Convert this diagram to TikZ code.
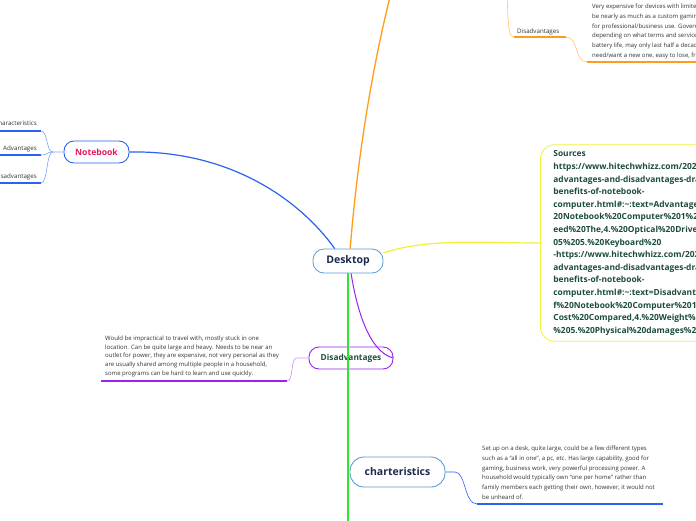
\documentclass[tikz,border=0pt]{standalone}
\usepackage{fontspec}
\setmainfont{Open Sans}
\definecolor{deskline}{HTML}{5B9BD5}
\definecolor{navy}{HTML}{1B2A4E}
\definecolor{nbblue}{HTML}{2C62F0}
\definecolor{nbpale}{HTML}{7EA2F7}
\definecolor{nbred}{HTML}{E5175F}
\definecolor{orangeline}{HTML}{FF9C1A}
\definecolor{orangepale}{HTML}{FFC56E}
\definecolor{yellowline}{HTML}{F2F23A}
\definecolor{greenline}{HTML}{2FE62F}
\definecolor{purpleline}{HTML}{9B23EE}
\definecolor{purplepale}{HTML}{D48BF7}
\definecolor{forest}{HTML}{1C4D3C}
\definecolor{body}{HTML}{333333}
\tikzset{
  mainnode/.style={draw=deskline, fill=white, rounded corners=11pt, line width=0.8pt,
                   text=navy, inner sep=0pt, font=\fontsize{10.5}{12}\selectfont\bfseries},
  topic/.style={draw, fill=white, line width=0.9pt, inner sep=0pt, rounded corners=10pt},
  limb/.style={line width=1.3pt},
  twig/.style={line width=0.6pt},
  leaftext/.style={align=left, inner sep=0pt, text=body,
                   font=\fontsize{6}{9.7}\selectfont},
  branchlabel/.style={inner sep=0pt, text=body, font=\fontsize{6.2}{7}\selectfont},
  sources/.style={draw=yellowline, fill=white, line width=0.8pt, rounded corners=14pt,
                  text=forest, align=left, text width=200pt, inner xsep=13pt, inner ysep=6pt,
                  font=\fontsize{8.4}{12.6}\selectfont\bfseries}
}

\begin{document}
\begin{tikzpicture}[x=1pt,y=-1pt]
  \useasboundingbox[fill=white] (0,0) rectangle (696,520);

  % Central topic and the nodes round it
  \node[mainnode, minimum width=70pt, minimum height=24pt] (desk) at (348,261) {Desktop};
  \node[topic, draw=nbblue, text=nbred, minimum width=65pt, minimum height=22pt,
        font=\fontsize{8.6}{10}\selectfont\bfseries] (nb) at (96.5,152) {Notebook};
  \node[topic, draw=purpleline, text=forest, minimum width=84pt, minimum height=22pt,
        font=\fontsize{8.3}{10}\selectfont\bfseries] (dis) at (351,358) {Disadvantages};
  \node[topic, draw=deskline, text=navy, minimum width=95pt, minimum height=30pt,
        rounded corners=14pt, font=\fontsize{10.5}{12}\selectfont\bfseries] (chr) at (397.5,472) {charteristics};
  \node[sources, anchor=west] (src) at (540,243) {Sources\\
    https://www.hitechwhizz.com/2021/03/5-\\
    advantages-and-disadvantages-drawbacks-\\
    benefits-of-notebook-\\
    computer.html\#:\textasciitilde:text=Advantages\%20of\%\\
    20Notebook\%20Computer\%201\%20Sp\\
    eed\%20The,4.\%20Optical\%20Drive\%2\\
    05\%205.\%20Keyboard\%20\\
    -https://www.hitechwhizz.com/2021/03/5-\\
    advantages-and-disadvantages-drawbacks-\\
    benefits-of-notebook-\\
    computer.html\#:\textasciitilde:text=Disadvantages\%20o\\
    f\%20Notebook\%20Computer\%201\%20H\\
    Cost\%20Compared,4.\%20Weight\%20\%2\\
    \%205.\%20Physical\%20damages\%20};

  % Main limbs
  \coordinate (laptop) at (397,-30);
  \draw[limb, orangeline] (desk.80) .. controls (358,150) and (375,50) .. (laptop);
  \draw[limb, nbblue, line width=1.2pt] (nb.east) .. controls (230,150) and (300,200) .. (desk.137);
  \draw[limb, yellowline, line width=1.2pt] (desk.13) .. controls (430,238) and (480,243) .. (src.west);
  \draw[limb, purpleline, line width=1pt] (desk.-76) .. controls (356,305) and (368,352) .. (dis.east);

  % Notebook leaves
  \coordinate (nbfork) at (53,152);
  \coordinate (nbc) at (41,131);
  \coordinate (nba) at (41,155);
  \coordinate (nbd) at (41,183);
  \draw[twig, nbpale] (nb.west) -- (nbfork) .. controls (46,152) and (48,131) .. (nbc);
  \draw[twig, nbpale] (nbfork) .. controls (46,152) and (48,155) .. (nba);
  \draw[twig, nbpale] (nbfork) .. controls (46,152) and (48,183) .. (nbd);
  \draw[limb, nbblue] (nbc) -- (-5,131);
  \draw[limb, nbblue] (nba) -- (-5,155);
  \draw[limb, nbblue] (nbd) -- (-5,183);
  \node[branchlabel, anchor=base east] (nbchar) at (37,125) {Characteristics};
  \node[branchlabel, anchor=base east] (nbadv) at (37,150) {Advantages};
  \node[branchlabel, anchor=base east] (nbdis) at (37,178) {Disadvantages};

  % Laptop disadvantages (top right)
  \coordinate (laptwig) at (507,-10);
  \coordinate (lapa) at (514,37);
  \coordinate (lapb) at (566,37);
  \coordinate (lapc) at (587,62);
  \draw[twig, orangepale] (laptwig) .. controls (508,30) and (509,37) .. (lapa);
  \draw[limb, orangeline] (lapa) -- (lapb);
  \draw[twig, orangepale] (lapb) .. controls (579,37) and (574,62) .. (lapc);
  \draw[limb, orangeline] (lapc) -- (700,62);
  \node[branchlabel, anchor=base west] (lapdis) at (517,33) {Disadvantages};
  \node[leaftext, anchor=north west] (laptext) at (592,4) {Very expensive for devices with limited\\
    be nearly as much as a custom gaming\\
    for professional/business use. Government\\
    depending on what terms and services\\
    battery life, may only last half a decade\\
    need/want a new one, easy to lose, fragile};

  % Desktop disadvantages
  \coordinate (disfork) at (297,358);
  \coordinate (disbase) at (287,381);
  \coordinate (disend) at (101,381);
  \draw[twig, purplepale] (dis.west) -- (disfork) .. controls (290,358) and (294,381) .. (disbase);
  \draw[limb, purpleline] (disbase) -- (disend);
  \node[leaftext, anchor=north west, font=\fontsize{6}{8.6}\selectfont] (distext) at (105,336)
    {Would be impractical to travel with, mostly stuck in one\\
    location. Can be quite large and heavy. Needs to be near an\\
    outlet for power, they are expensive, not very personal as they\\
    are usually shared among multiple people in a household,\\
    some programs can be hard to learn and use quickly.};

  % Desktop charteristics
  \coordinate (chrfork) at (455,472);
  \coordinate (chrbase) at (477,504);
  \draw[twig, nbblue] (chr.east) -- (chrfork) .. controls (466,472) and (464,504) .. (chrbase);
  \draw[limb, nbblue] (chrbase) -- (663,504);
  \node[leaftext, anchor=north west] (chrtext) at (482,446) {Set up on a desk, quite large, could be a few different types\\
    such as a ``all in one'', a pc, etc. Has large capability, good for\\
    gaming, business work, very powerful processing power. A\\
    household would typically own ``one per home'' rather than\\
    family members each getting their own, however, it would not\\
    be unheard of.};

  % Green limb runs over the nodes below the centre
  \coordinate (greenend) at (348,530);
  \draw[limb, greenline, line width=1.5pt] (desk.south) -- (greenend);
\end{tikzpicture}
\end{document}
